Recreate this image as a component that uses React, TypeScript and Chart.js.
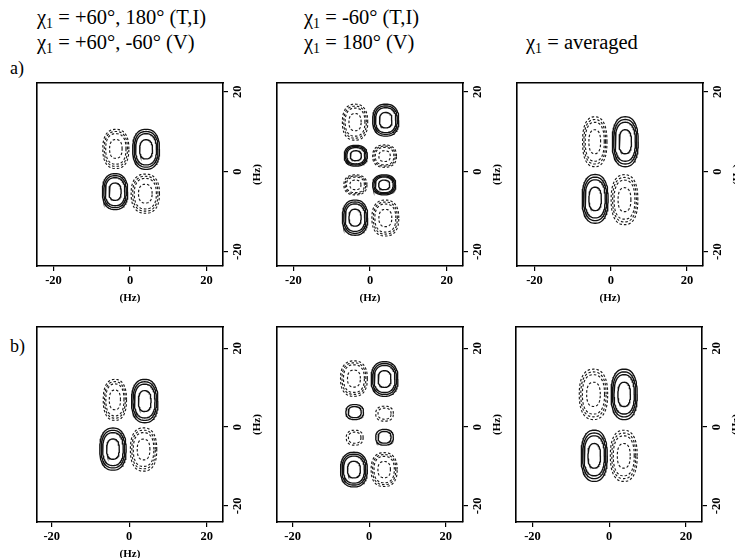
import React, { useEffect, useRef } from "react";
import { Chart, registerables } from "chart.js";

Chart.register(...registerables);

// ---- data ----
// contour level fractions (outer -> inner)
const bigLevels = [1.0, 0.89, 0.78, 0.48];
const smallLevels = [1.0, 0.74];

// tick values on both axes (Hz)
const axisTicks = [-20, 0, 20];

// peaks: [centerX, centerY, halfWidthX, halfWidthY, sign(+1 solid / -1 dashed), levelSet(0 big / 1 small)]
const peaksALeft = [
  [-3.7, 5.7, 3.4, 4.9, -1, 0],
  [4.2, 5.6, 3.5, 5.0, 1, 0],
  [-3.9, -5.0, 3.3, 4.5, 1, 0],
  [4.0, -5.5, 3.7, 4.9, -1, 0],
];
const peaksAMid = [
  [-3.9, 12.4, 3.3, 4.5, -1, 0],
  [4.1, 12.9, 3.4, 4.0, 1, 0],
  [-3.7, 4.0, 3.0, 2.6, 1, 0],
  [3.8, 3.9, 3.1, 2.8, -1, 0],
  [-3.8, -3.3, 3.0, 2.5, -1, 0],
  [3.7, -3.3, 3.0, 2.5, 1, 0],
  [-3.9, -11.5, 3.3, 4.4, 1, 0],
  [4.0, -11.6, 3.5, 4.5, -1, 0],
];
const peaksARight = [
  [-4.2, 7.5, 3.2, 6.25, -1, 0],
  [3.8, 7.5, 3.4, 6.25, 1, 0],
  [-4.1, -6.8, 3.4, 6.1, 1, 0],
  [3.6, -7.0, 3.5, 6.25, -1, 0],
];
const peaksBLeft = [
  [-3.7, 6.9, 3.0, 5.2, -1, 0],
  [4.0, 6.6, 3.4, 5.5, 1, 0],
  [-4.2, -5.6, 3.4, 5.35, 1, 0],
  [3.7, -5.7, 3.4, 5.5, -1, 0],
];
const peaksBMid = [
  [-4.0, 12.3, 3.5, 4.5, -1, 0],
  [4.0, 12.2, 3.5, 4.4, 1, 0],
  [-3.8, 3.8, 2.3, 1.9, 1, 1],
  [4.0, 3.4, 2.3, 1.9, -1, 1],
  [-3.8, -2.7, 2.2, 1.9, -1, 1],
  [4.0, -2.6, 2.3, 2.0, 1, 1],
  [-4.0, -10.8, 3.5, 4.4, 1, 0],
  [3.9, -10.8, 3.4, 4.3, -1, 0],
];
const peaksBRight = [
  [-4.1, 8.3, 3.7, 6.4, -1, 0],
  [3.9, 8.3, 3.4, 6.4, 1, 0],
  [-3.9, -7.3, 3.4, 6.5, 1, 0],
  [3.8, -7.3, 3.5, 6.5, -1, 0],
];

// axis ranges (Hz)
const xRangeALeft = [-24.3, 24.3];
const xRangeAMid = [-24.25, 24.25];
const xRangeARight = [-24.6, 24.2];
const yRangeRowA = [-23.6, 22.2];
const xRangeBLeft = [-23.8, 24.2];
const xRangeBMid = [-24.1, 24.5];
const xRangeBRight = [-24.3, 24.2];
const yRangeRowB = [-24.1, 25.4];

// ---- drawing helpers ----
const SERIF = '"Liberation Serif", "DejaVu Serif", serif';

function contourRing(cx: number, cy: number, rx: number, ry: number) {
  const pts: { x: number; y: number }[] = [];
  const n = 72;
  const p = 2 / 2.4; // superellipse exponent
  for (let i = 0; i <= n; i++) {
    const t = (i / n) * Math.PI * 2;
    const c = Math.cos(t);
    const s = Math.sin(t);
    pts.push({
      x: cx + rx * Math.sign(c) * Math.pow(Math.abs(c), p),
      y: cy + ry * Math.sign(s) * Math.pow(Math.abs(s), p),
    });
  }
  return pts;
}

function buildDatasets(peaks: number[][]) {
  const ds: any[] = [];
  peaks.forEach(([cx, cy, rx, ry, sign, set]) => {
    const levels = set === 1 ? smallLevels : bigLevels;
    levels.forEach((f) => {
      ds.push({
        data: contourRing(cx, cy, rx * f, ry * f),
        showLine: true,
        pointRadius: 0,
        borderColor: sign > 0 ? "#111" : "#1a1a1a",
        borderWidth: sign > 0 ? 1.35 : 1.15,
        borderDash: sign > 0 ? [] : [2.5, 2],
        fill: false,
        tension: 0,
      });
    });
  });
  return ds;
}

const rightTitlePlugin = {
  id: "rightTitle",
  afterDraw(chart: any) {
    const { ctx, chartArea } = chart;
    ctx.save();
    ctx.translate(chartArea.right + 34, (chartArea.top + chartArea.bottom) / 2);
    ctx.rotate(-Math.PI / 2);
    ctx.font = `bold 11px ${SERIF}`;
    ctx.fillStyle = "#000";
    ctx.textAlign = "center";
    ctx.textBaseline = "middle";
    ctx.fillText("(Hz)", 0, 0);
    ctx.restore();
  },
};

type PanelProps = {
  peaks: number[][];
  xRange: number[];
  yRange: number[];
  left: number;
  top: number;
  frameW: number;
  frameH: number;
  xTitle: boolean;
};

function Panel({ peaks, xRange, yRange, left, top, frameW, frameH, xTitle }: PanelProps) {
  const ref = useRef<HTMLCanvasElement>(null);
  const W = frameW + 2 + 46;
  const H = frameH + 2 + 40;
  useEffect(() => {
    if (!ref.current) return;
    const tickFont = { family: SERIF, size: 12.5, weight: "bold" as const };
    const border = { display: true, color: "#000", width: 1.6 };
    const grid = {
      display: true,
      drawOnChartArea: false,
      drawTicks: true,
      tickLength: 5,
      color: "#000",
      lineWidth: 1.2,
    };
    const setTicks = (s: any) => {
      s.ticks = axisTicks.map((v) => ({ value: v }));
    };
    const chart = new Chart(ref.current, {
      type: "scatter",
      data: { datasets: buildDatasets(peaks) },
      options: {
        animation: false,
        responsive: false,
        devicePixelRatio: 1,
        events: [],
        layout: { padding: { left: 2, top: 2, right: 0, bottom: 0 } },
        plugins: { legend: { display: false }, tooltip: { enabled: false } },
        scales: {
          x: {
            type: "linear",
            position: "bottom",
            min: xRange[0],
            max: xRange[1],
            afterBuildTicks: setTicks,
            ticks: { font: tickFont, color: "#000", padding: 2, maxRotation: 0, minRotation: 0 },
            grid,
            border,
            title: {
              display: xTitle,
              text: "(Hz)",
              color: "#000",
              font: { family: SERIF, size: 11, weight: "bold" },
              padding: { top: 0, bottom: 1 },
            },
            afterFit: (s: any) => {
              s.height = 40;
              s.paddingLeft = 0;
              s.paddingRight = 0;
            },
          },
          y: {
            type: "linear",
            position: "right",
            min: yRange[0],
            max: yRange[1],
            afterBuildTicks: setTicks,
            ticks: {
              font: tickFont,
              color: "#000",
              padding: 1,
              minRotation: 90,
              maxRotation: 90,
              crossAlign: "center",
            },
            grid,
            border,
            afterFit: (s: any) => {
              s.width = 46;
              s.paddingTop = 0;
              s.paddingBottom = 0;
            },
          },
          xTop: {
            type: "linear",
            position: "top",
            min: xRange[0],
            max: xRange[1],
            ticks: { display: false },
            grid: { display: false, drawTicks: false },
            border,
            afterFit: (s: any) => {
              s.height = 0;
              s.paddingLeft = 0;
              s.paddingRight = 0;
            },
          },
          yLeft: {
            type: "linear",
            position: "left",
            min: yRange[0],
            max: yRange[1],
            ticks: { display: false },
            grid: { display: false, drawTicks: false },
            border,
            afterFit: (s: any) => {
              s.width = 0;
              s.paddingTop = 0;
              s.paddingBottom = 0;
            },
          },
        },
      } as any,
      plugins: [rightTitlePlugin],
    });
    return () => chart.destroy();
  }, []);
  return (
    <div style={{ position: "absolute", left: left - 2, top: top - 2, width: W, height: H }}>
      <canvas ref={ref} width={W} height={H} style={{ width: W, height: H, display: "block" }} />
    </div>
  );
}

const chi = (
  <>
    χ<span style={{ fontSize: "0.68em", position: "relative", top: "0.3em" }}>1</span>
  </>
);

function Label({ x, y, children, size = 20.5 }: { x: number; y: number; children: any; size?: number }) {
  return (
    <div
      style={{
        position: "absolute",
        left: x,
        top: y - 12,
        height: 24,
        lineHeight: "24px",
        fontFamily: SERIF,
        fontSize: size,
        whiteSpace: "nowrap",
        color: "#000",
      }}
    >
      {children}
    </div>
  );
}

export default function App() {
  return (
    <div
      style={{
        position: "absolute",
        left: 0,
        top: 0,
        width: 735,
        height: 558,
        overflow: "hidden",
        background: "#fff",
      }}
    >
      <Label x={37} y={17}>{chi} = +60°, 180° (T,I)</Label>
      <Label x={37} y={42}>{chi} = +60°, -60° (V)</Label>
      <Label x={304} y={17}>{chi} = -60° (T,I)</Label>
      <Label x={304} y={42}>{chi} = 180° (V)</Label>
      <Label x={526} y={42}>{chi} = averaged</Label>
      <Label x={10} y={68} size={18}>a)</Label>
      <Label x={10} y={346} size={18}>b)</Label>

      <Panel peaks={peaksALeft} xRange={xRangeALeft} yRange={yRangeRowA} left={37} top={83} frameW={186} frameH={183} xTitle={true} />
      <Panel peaks={peaksAMid} xRange={xRangeAMid} yRange={yRangeRowA} left={277} top={83} frameW={186} frameH={183} xTitle={true} />
      <Panel peaks={peaksARight} xRange={xRangeARight} yRange={yRangeRowA} left={517} top={83} frameW={186} frameH={183} xTitle={true} />
      <Panel peaks={peaksBLeft} xRange={xRangeBLeft} yRange={yRangeRowB} left={37} top={327} frameW={186} frameH={195} xTitle={true} />
      <Panel peaks={peaksBMid} xRange={xRangeBMid} yRange={yRangeRowB} left={277} top={327} frameW={186} frameH={195} xTitle={false} />
      <Panel peaks={peaksBRight} xRange={xRangeBRight} yRange={yRangeRowB} left={516} top={327} frameW={186} frameH={195} xTitle={false} />
    </div>
  );
}
